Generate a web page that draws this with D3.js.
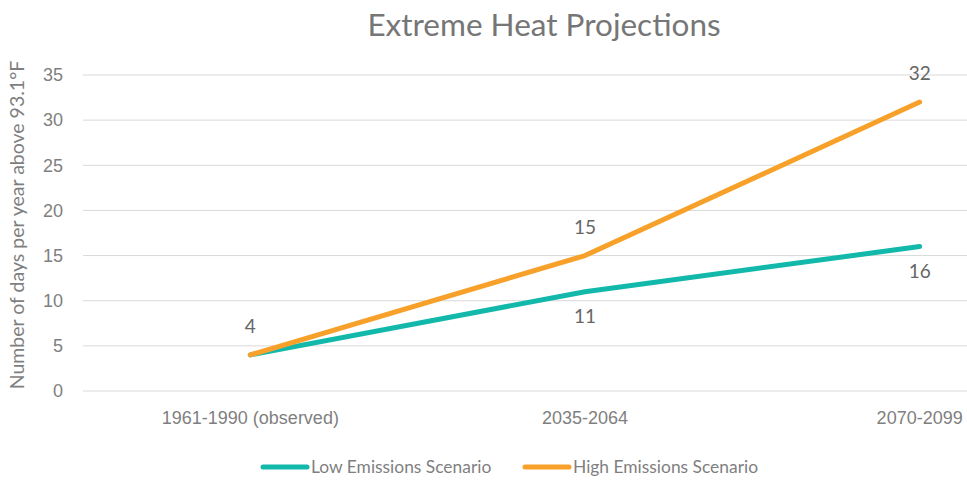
<!DOCTYPE html>
<html>
<head>
<meta charset="utf-8">
<script src="https://cdn.jsdelivr.net/npm/d3@7"></script>
<style>
  body { margin: 0; background: #fff; }
  svg { font-family: Lato, "Open Sans", sans-serif; }
  .grid line { stroke: #d9d9d9; stroke-width: 1; }
  .axis text { fill: #7f7f7f; font-size: 18px; }
  .axis path, .axis line { display: none; }
</style>
</head>
<body>
<svg id="chart" width="967" height="483"></svg>
<script>
var periods = ["1961-1990 (observed)", "2035-2064", "2070-2099"];
var lowEmissions = [4, 11, 16];
var highEmissions = [4, 15, 32];
var seriesNames = ["Low Emissions Scenario", "High Emissions Scenario"];
var seriesColors = ["#12b9ab", "#f7a12a"];
var yTicks = [0, 5, 10, 15, 20, 25, 30, 35];

var margin = {top: 75, left: 83},
    plotWidth = 1004,
    plotHeight = 316;

var svg = d3.select("#chart");
var g = svg.append("g")
    .attr("transform", "translate(" + margin.left + "," + margin.top + ")");

var x = d3.scaleBand().domain(periods).range([0, plotWidth]);
var y = d3.scaleLinear().domain([0, 35]).range([plotHeight, 0]);

// gridlines
g.append("g").attr("class", "grid")
  .selectAll("line").data(yTicks).enter().append("line")
  .attr("x1", 0).attr("x2", plotWidth)
  .attr("y1", function(d) { return y(d); })
  .attr("y2", function(d) { return y(d); });

// y axis
g.append("g").attr("class", "axis")
  .call(d3.axisLeft(y).tickValues(yTicks).tickSize(0).tickPadding(20));

// x axis
g.append("g").attr("class", "axis")
  .attr("transform", "translate(0," + plotHeight + ")")
  .call(d3.axisBottom(x).tickSize(0).tickPadding(20));

var line = d3.line()
  .x(function(d, i) { return x(periods[i]) + x.bandwidth() / 2; })
  .y(function(d) { return y(d); });

[lowEmissions, highEmissions].forEach(function(vals, s) {
  g.append("path")
    .datum(vals)
    .attr("fill", "none")
    .attr("stroke", seriesColors[s])
    .attr("stroke-width", 5)
    .attr("stroke-linecap", "round")
    .attr("stroke-linejoin", "round")
    .attr("d", line);
});

// data labels: high above, low below (skip where identical)
g.append("g").selectAll("text").data(highEmissions).enter().append("text")
  .attr("x", function(d, i) { return x(periods[i]) + x.bandwidth() / 2; })
  .attr("y", function(d) { return y(d) - 22; })
  .attr("text-anchor", "middle")
  .attr("fill", "#666")
  .style("font-size", "19px")
  .text(function(d) { return d; });

g.append("g").selectAll("text").data(lowEmissions).enter()
  .filter(function(d, i) { return d !== highEmissions[i]; })
  .append("text")
  .attr("x", function(d) { return x(periods[lowEmissions.indexOf(d)]) + x.bandwidth() / 2; })
  .attr("y", function(d) { return y(d) + 31; })
  .attr("text-anchor", "middle")
  .attr("fill", "#666")
  .style("font-size", "19px")
  .text(function(d) { return d; });

// title
svg.append("text")
  .attr("x", 544).attr("y", 36)
  .attr("text-anchor", "middle")
  .attr("fill", "#767676")
  .style("font-size", "31.5px")
  .text("Extreme Heat Projections");

// y axis title
svg.append("text")
  .attr("transform", "translate(24," + (margin.top + plotHeight / 2 - 8) + ") rotate(-90)")
  .attr("text-anchor", "middle")
  .attr("fill", "#7f7f7f")
  .style("font-size", "19.5px")
  .text("Number of days per year above 93.1°F");

// legend
var legendX = [263, 525];
var legend = svg.append("g").selectAll("g").data(seriesNames).enter().append("g")
  .attr("transform", function(d, i) { return "translate(" + legendX[i] + ",467)"; });
legend.append("line")
  .attr("x1", 0).attr("x2", 44)
  .attr("stroke", function(d, i) { return seriesColors[i]; })
  .attr("stroke-width", 5)
  .attr("stroke-linecap", "round");
legend.append("text")
  .attr("x", 48).attr("y", 6)
  .attr("fill", "#7f7f7f")
  .style("font-size", "17.4px")
  .text(function(d) { return d; });
</script>
</body>
</html>
